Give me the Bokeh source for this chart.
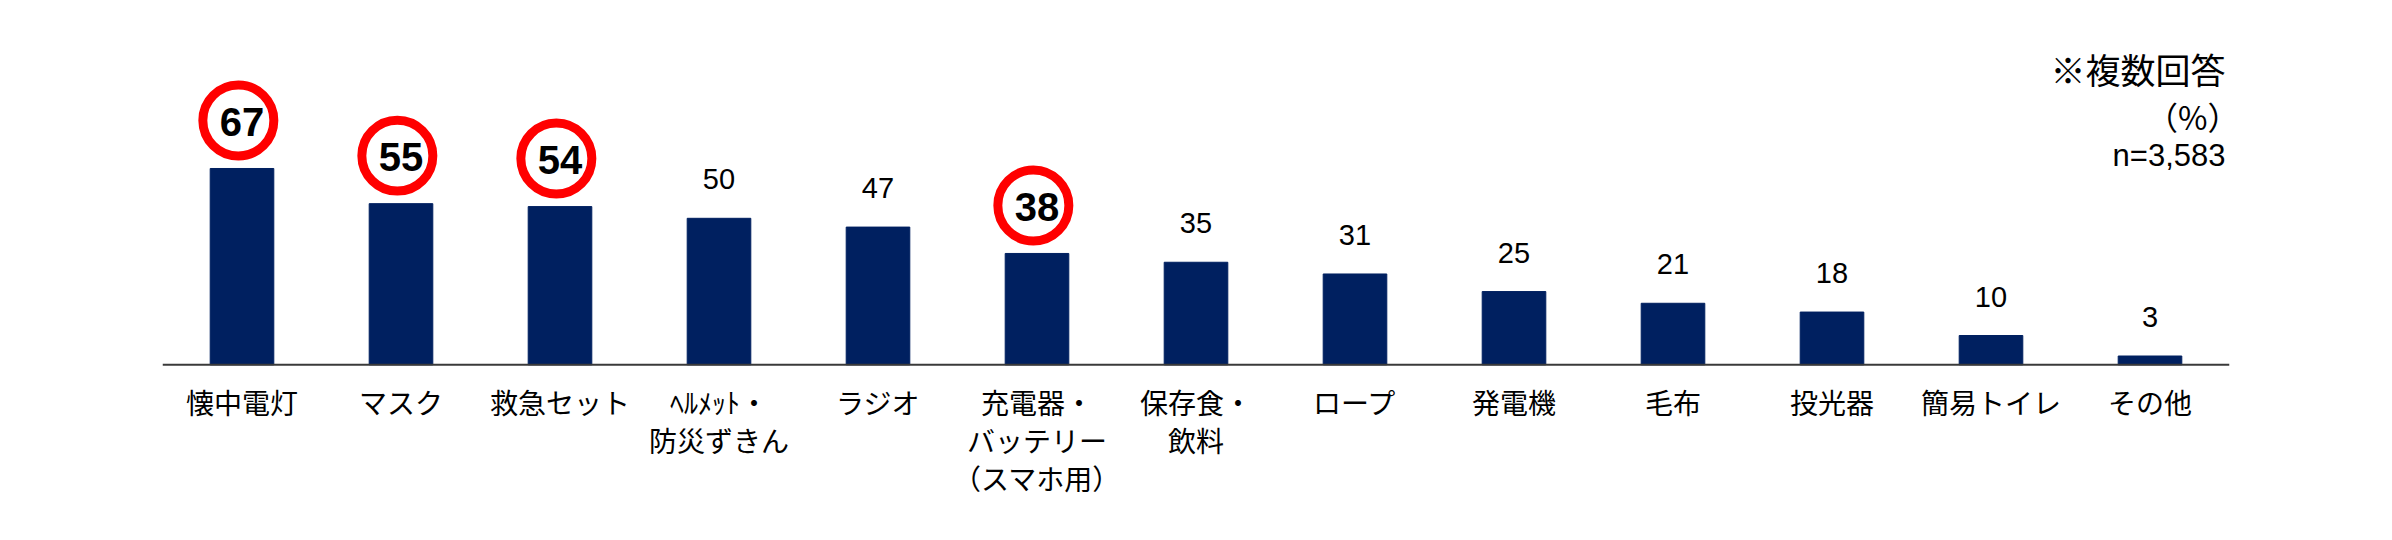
from bokeh.plotting import figure
from bokeh.models import ColumnDataSource, FactorRange, Range1d, Span
from bokeh.transform import dodge
from bokeh.core.properties import value
from bokeh.embed import file_html
from bokeh.resources import INLINE

# Survey items (multiple answers allowed), share of respondents in %
categories = [
    "懐中電灯", "マスク", "救急セット", "ﾍﾙﾒｯﾄ・\n防災ずきん", "ラジオ",
    "充電器・\nバッテリー\n（スマホ用）", "保存食・\n飲料", "ロープ", "発電機",
    "毛布", "投光器", "簡易トイレ", "その他",
]
percentages = [67, 55, 54, 50, 47, 38, 35, 31, 25, 21, 18, 10, 3]
highlighted = ["懐中電灯", "マスク", "救急セット", "充電器・\nバッテリー\n（スマホ用）"]
note_lines = ["※複数回答", "（%）", "n=3,583"]

# Layout (pixels)
W, H = 2392, 540
LEFT, RIGHT = 162, 163
AXIS_Y = 364.3          # baseline row, from the top
PX_PER_UNIT = 2.93      # bar pixels per percentage point
CAT_W = (W - LEFT - RIGHT) / len(categories)

BAR_COLOR = "#002060"
RING_COLOR = "#FF0000"
JP_FONT = "Noto Sans CJK JP"
NUM_FONT = "Liberation Sans"


def dy(px):
    """Pixel distance expressed in data units along y."""
    return px / PX_PER_UNIT


def y_at(py):
    """Data y for a pixel row measured from the top of the page."""
    return (AXIS_Y - py) / PX_PER_UNIT


def x_at(px):
    """Synthetic categorical x for a pixel column measured from the page's left edge."""
    return (px - LEFT) / CAT_W


p = figure(
    width=W, height=H,
    x_range=FactorRange(*categories, range_padding=0),
    y_range=Range1d(-(H - AXIS_Y) / PX_PER_UNIT, AXIS_Y / PX_PER_UNIT),
    x_axis_location=None, y_axis_location=None,
    output_backend="svg", toolbar_location=None,
    min_border_left=LEFT, min_border_right=RIGHT,
    min_border_top=0, min_border_bottom=0,
)
p.outline_line_color = None
p.grid.visible = False
p.background_fill_color = "white"
p.border_fill_color = "white"

# Bars
bars = ColumnDataSource(dict(cat=categories, pct=percentages))
p.vbar(x="cat", top="pct", width=0.40, source=bars,
       fill_color=BAR_COLOR, line_color=BAR_COLOR, line_width=1)

# Baseline
p.add_layout(Span(location=0, dimension="width", line_color="#3a3a3a", line_width=2))

# Plain value labels
plain = [(c, v) for c, v in zip(categories, percentages) if c not in highlighted]
plain_src = ColumnDataSource(dict(
    cat=[c for c, _ in plain],
    y=[v + dy(39) for _, v in plain],
    label=[str(v) for _, v in plain],
))
p.text(x="cat", y="y", text="label", source=plain_src,
       text_align="center", text_baseline="middle",
       text_font=value(NUM_FONT), text_font_size="29px", text_color="black")

# Highlighted values: red ring with bold number
hl = [(c, v) for c, v in zip(categories, percentages) if c in highlighted]
hl_src = ColumnDataSource(dict(
    cat=[c for c, _ in hl],
    cy=[v + dy(48) for _, v in hl],
    ty=[v + dy(46.5) for _, v in hl],
    label=[str(v) for _, v in hl],
))
p.scatter(x=dodge("cat", -0.023, range=p.x_range), y="cy", source=hl_src,
          marker="circle", size=71, fill_color="white",
          line_color=RING_COLOR, line_width=9)
p.text(x="cat", y="ty", text="label", source=hl_src,
       text_align="center", text_baseline="middle",
       text_font=value(NUM_FONT), text_font_style="bold",
       text_font_size="40px", text_color="black")

# Category labels, one text per line
lx, ly, lt = [], [], []
for c in categories:
    for k, line in enumerate(c.split("\n")):
        lx.append(c)
        ly.append(-dy(37.4 + 38 * k))
        lt.append(line)
p.text(x=lx, y=ly, text=lt, text_align="center", text_baseline="middle",
       text_font=value(JP_FONT), text_font_size="28px", text_color="black")

# Note block, top right
note_src = ColumnDataSource(dict(
    x=[x_at(2225), x_at(2239), x_at(2225)],
    y=[y_at(68), y_at(115), y_at(155)],
    text=note_lines,
    size=["35px", "32px", "31px"],
    font=[JP_FONT, JP_FONT, NUM_FONT],
))
p.text(x="x", y="y", text="text", source=note_src,
       text_align="right", text_baseline="middle",
       text_font="font", text_font_size="size", text_color="black")

open("out.html", "w").write(file_html(p, INLINE))
